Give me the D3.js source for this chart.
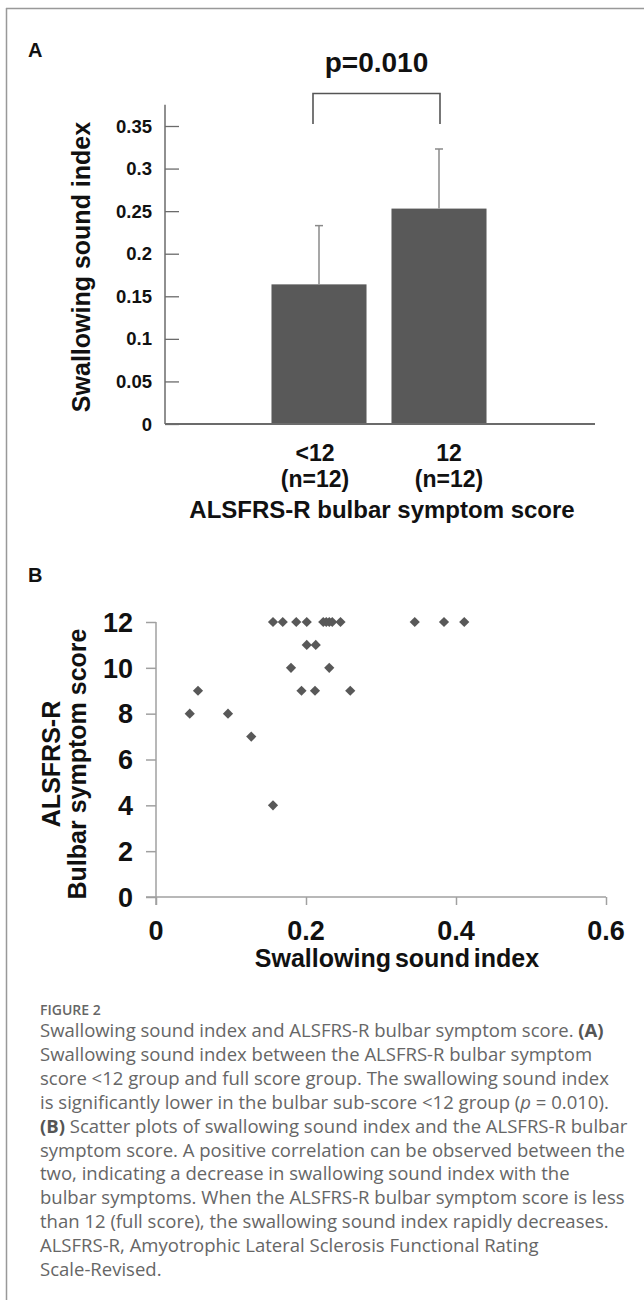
<!DOCTYPE html>
<html>
<head>
<meta charset="utf-8">
<script src="https://cdn.jsdelivr.net/npm/d3@7"></script>
<style>
  html, body { margin: 0; padding: 0; background: #fff; }
  svg { display: block; }
  .chart text { font-family: "Liberation Sans", Arial, sans-serif; font-weight: bold; fill: #111; }
  .cap text { font-family: "Open Sans", "Noto Sans", sans-serif; fill: #666; }
</style>
</head>
<body>
<script>
// ---------- Panel A data ----------
const groups = ["<12", "12"];
const groupN = ["(n=12)", "(n=12)"];
const groupMeans = [0.164, 0.253];
const groupSD = [0.069, 0.070];
const yTicksA = [0, 0.05, 0.1, 0.15, 0.2, 0.25, 0.3, 0.35];
const pLabel = "p=0.010";

// ---------- Panel B data ----------
const soundIndex = [0.156, 0.169, 0.187, 0.201, 0.223, 0.227, 0.231, 0.235, 0.246, 0.345, 0.384, 0.411,
                    0.201, 0.213,
                    0.180, 0.231,
                    0.056, 0.194, 0.212, 0.259,
                    0.045, 0.096,
                    0.127,
                    0.156];
const bulbarScore = [12, 12, 12, 12, 12, 12, 12, 12, 12, 12, 12, 12,
                     11, 11,
                     10, 10,
                     9, 9, 9, 9,
                     8, 8,
                     7,
                     4];
const xTicksB = [0, 0.2, 0.4, 0.6];
const yTicksB = [0, 2, 4, 6, 8, 10, 12];

// ---------- Caption ----------
const captionTitle = "FIGURE 2";
const captionLines = [
  [["Swallowing sound index and ALSFRS-R bulbar symptom score. ", "n"], ["(A)", "b"]],
  [["Swallowing sound index between the ALSFRS-R bulbar symptom", "n"]],
  [["score <12 group and full score group. The swallowing sound index", "n"]],
  [["is significantly lower in the bulbar sub-score <12 group (", "n"], ["p", "i"], [" = 0.010).", "n"]],
  [["(B)", "b"], [" Scatter plots of swallowing sound index and the ALSFRS-R bulbar", "n"]],
  [["symptom score. A positive correlation can be observed between the", "n"]],
  [["two, indicating a decrease in swallowing sound index with the", "n"]],
  [["bulbar symptoms. When the ALSFRS-R bulbar symptom score is less", "n"]],
  [["than 12 (full score), the swallowing sound index rapidly decreases.", "n"]],
  [["ALSFRS-R, Amyotrophic Lateral Sclerosis Functional Rating", "n"]],
  [["Scale-Revised.", "n"]]
];

const W = 644, H = 1300;
const svg = d3.select("body").append("svg").attr("width", W).attr("height", H);

// frame
svg.append("line").attr("x1", 6.5).attr("x2", 6.5).attr("y1", 8).attr("y2", H)
  .attr("stroke", "#999").attr("stroke-width", 1.5);
svg.append("line").attr("x1", 6).attr("x2", W).attr("y1", 8.5).attr("y2", 8.5)
  .attr("stroke", "#999").attr("stroke-width", 1.5);

const chart = svg.append("g").attr("class", "chart");

// ================= Panel A =================
chart.append("text").attr("x", 28).attr("y", 57).attr("font-size", 20).text("A");

const xA = d3.scaleBand().domain(groups).range([259, 499]).paddingInner(0.208).paddingOuter(0.104);
const yA = d3.scaleLinear().domain([0, 0.35]).range([424, 126]);
const axisColA = "#6b6b6b";

// y axis
const gyA = chart.append("g").attr("transform", "translate(165,0)")
  .call(d3.axisRight(yA).tickValues(yTicksA).tickSize(14).tickSizeOuter(0).tickFormat(() => ""));
gyA.select(".domain").remove();
gyA.selectAll(".tick line").attr("stroke", axisColA).attr("stroke-width", 1.3);
chart.append("line").attr("x1", 165).attr("x2", 165).attr("y1", yA(0)).attr("y2", yA(0.375))
  .attr("stroke", axisColA).attr("stroke-width", 1.5);
chart.selectAll(".ytlA").data(yTicksA).join("text").attr("class", "ytlA")
  .attr("x", 152).attr("y", d => yA(d) + 6.5).attr("text-anchor", "end").attr("font-size", 18.5)
  .text(d => d === 0 ? "0" : String(d));

// bars
chart.selectAll(".bar").data(groups).join("rect").attr("class", "bar")
  .attr("x", d => xA(d)).attr("width", xA.bandwidth())
  .attr("y", (d, i) => yA(groupMeans[i])).attr("height", (d, i) => yA(0) - yA(groupMeans[i]))
  .attr("fill", "#595959");

// error bars
const errCol = "#8a8a8a";
groups.forEach((g, i) => {
  const cx = xA(g) + xA.bandwidth() / 2;
  chart.append("line").attr("x1", cx).attr("x2", cx)
    .attr("y1", yA(groupMeans[i])).attr("y2", yA(groupMeans[i] + groupSD[i]))
    .attr("stroke", errCol).attr("stroke-width", 1.5);
  chart.append("line").attr("x1", cx - 4).attr("x2", cx + 4)
    .attr("y1", yA(groupMeans[i] + groupSD[i])).attr("y2", yA(groupMeans[i] + groupSD[i]))
    .attr("stroke", errCol).attr("stroke-width", 1.5);
});

// x axis baseline
chart.append("line").attr("x1", 165).attr("x2", 595).attr("y1", yA(0)).attr("y2", yA(0))
  .attr("stroke", axisColA).attr("stroke-width", 1.8);

// x labels
const labOff = [-4, 10];
groups.forEach((g, i) => {
  const cx = xA(g) + xA.bandwidth() / 2 + labOff[i];
  chart.append("text").attr("x", cx).attr("y", 461).attr("text-anchor", "middle").attr("font-size", 23).text(g);
  chart.append("text").attr("x", cx).attr("y", 487).attr("text-anchor", "middle").attr("font-size", 23).text(groupN[i]);
});
chart.append("text").attr("x", 382).attr("y", 518).attr("text-anchor", "middle").attr("font-size", 24)
  .text("ALSFRS-R bulbar symptom score");

// y title
chart.append("text").attr("transform", "translate(90,267) rotate(-90)").attr("text-anchor", "middle")
  .attr("font-size", 25).text("Swallowing sound index");

// significance bracket
const bx1 = xA(groups[0]) + xA.bandwidth() / 2 - 6;
const bx2 = xA(groups[1]) + xA.bandwidth() / 2 + 1;
chart.append("path").attr("d", `M${bx1},124V93.5H${bx2}V124`).attr("fill", "none")
  .attr("stroke", "#555").attr("stroke-width", 1.6);
chart.append("text").attr("x", (bx1 + bx2) / 2).attr("y", 72).attr("text-anchor", "middle")
  .attr("font-size", 28).text(pLabel);

// ================= Panel B =================
chart.append("text").attr("x", 28).attr("y", 582).attr("font-size", 20).text("B");

const xB = d3.scaleLinear().domain([0, 0.6]).range([156, 606]);
const yB = d3.scaleLinear().domain([0, 12]).range([897, 622]);
const axisColB = "#a0a0a0";

const gxB = chart.append("g").attr("transform", `translate(0,${yB(0)})`)
  .call(d3.axisBottom(xB).tickValues(xTicksB).tickSize(8).tickSizeOuter(0).tickFormat(() => ""));
gxB.select(".domain").remove();
gxB.selectAll(".tick line").attr("stroke", axisColB).attr("stroke-width", 1.5);
chart.append("line").attr("x1", 146).attr("x2", xB(0.6)).attr("y1", yB(0)).attr("y2", yB(0))
  .attr("stroke", axisColB).attr("stroke-width", 1.5);

const gyB = chart.append("g").attr("transform", `translate(${xB(0)},0)`)
  .call(d3.axisLeft(yB).tickValues(yTicksB).tickSize(10).tickSizeOuter(0).tickFormat(() => ""));
gyB.select(".domain").remove();
gyB.selectAll(".tick line").attr("stroke", axisColB).attr("stroke-width", 1.5);
chart.append("line").attr("x1", xB(0)).attr("x2", xB(0)).attr("y1", yB(0) + 8).attr("y2", yB(12))
  .attr("stroke", axisColB).attr("stroke-width", 1.5);

chart.selectAll(".ytlB").data(yTicksB).join("text").attr("class", "ytlB")
  .attr("x", 133).attr("y", d => yB(d) + 9.7).attr("text-anchor", "end").attr("font-size", 27)
  .text(d => String(d));
chart.selectAll(".xtlB").data(xTicksB).join("text").attr("class", "xtlB")
  .attr("x", d => xB(d)).attr("y", 940).attr("text-anchor", "middle").attr("font-size", 27)
  .text(d => d === 0 ? "0" : String(d));

chart.append("text").attr("x", 397).attr("y", 967).attr("text-anchor", "middle").attr("font-size", 25)
  .attr("word-spacing", -3).text("Swallowing sound index");
chart.append("text").attr("transform", "translate(60,764) rotate(-90)").attr("text-anchor", "middle")
  .attr("font-size", 25).text("ALSFRS-R");
chart.append("text").attr("transform", "translate(86,764) rotate(-90)").attr("text-anchor", "middle")
  .attr("font-size", 25).text("Bulbar symptom score");

// points
const sym = d3.symbol().type(d3.symbolSquare).size(52);
chart.selectAll(".pt").data(soundIndex).join("path").attr("class", "pt")
  .attr("d", sym)
  .attr("transform", (d, i) => `translate(${xB(d)},${yB(bulbarScore[i])}) rotate(45)`)
  .attr("fill", "#585858");

// ================= Caption =================
const cap = svg.append("g").attr("class", "cap");
cap.append("text").attr("x", 40).attr("y", 1015).attr("font-size", 14).attr("font-weight", 600)
  .attr("fill", "#707070").text(captionTitle);
const capTexts = captionLines.map((parts, i) => {
  const t = cap.append("text").attr("x", 40).attr("y", 1037 + i * 23.9).attr("font-size", 16.5);
  parts.forEach(([s, st]) => {
    const ts = t.append("tspan").text(s);
    if (st === "b") ts.attr("font-weight", 700).attr("fill", "#555");
    if (st === "i") ts.attr("font-style", "italic");
  });
  return t;
});
// fit caption font size so the first line spans the same width as in the figure
const w0 = capTexts[0].node().getComputedTextLength();
const fs = 16.5 * 564 / w0;
capTexts.forEach(t => t.attr("font-size", fs));
</script>
</body>
</html>
